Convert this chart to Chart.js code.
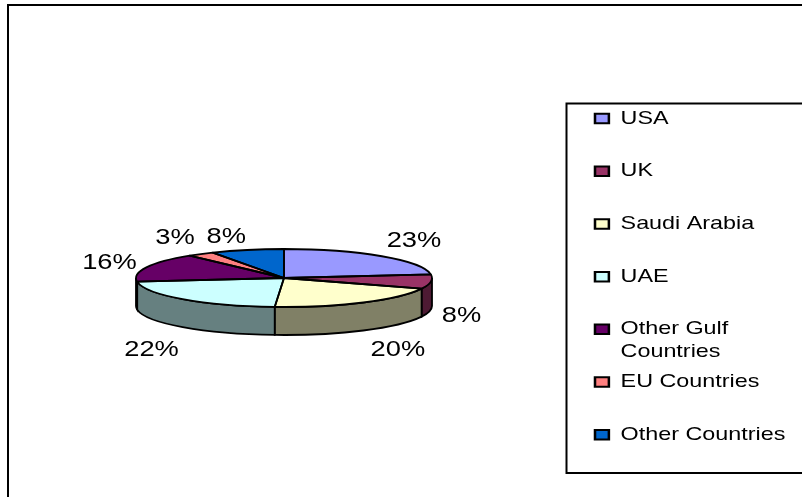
<!DOCTYPE html>
<html>
<head>
<meta charset="utf-8">
<style>html,body{margin:0;padding:0;background:#fff}canvas{display:block}</style>
<script src="https://cdn.jsdelivr.net/npm/chart.js@4"></script>
</head>
<body>
<canvas id="c" width="802" height="497"></canvas>
<script>
const categories = ['USA', 'UK', 'Saudi Arabia', 'UAE', ['Other Gulf', 'Countries'], 'EU Countries', 'Other Countries'];
const shares = [23, 8, 20, 22, 16, 3, 8];
const topColors = ['#9999FF', '#993366', '#FFFFCC', '#CCFFFF', '#660066', '#FF8080', '#0066CC'];
const wallColors = ['#4D4D80', '#4D1A33', '#808066', '#668080', '#330033', '#804040', '#003366'];
const labelNudges = [[3, -1], [-13, 3], [11, 3], [-1, 8], [4, 3], [-1, 0], [-10, 6]];

const FONT = '"Liberation Sans", Arial, sans-serif';
const RX = 148, RY = 29, DEPTH = 28, CY = 278;
const LEGEND_SX = 1.262, LEGEND_X = 595, LEGEND_SIZE = 18.5, LEGEND_PAD = 34.17, LEGEND_TOP = 75.2;

function arcs(chart) { return chart.getDatasetMeta(0).data; }

const pie3d = {
  id: 'pie3d',
  beforeDraw(chart) {
    const c = chart.ctx;
    c.save();
    c.fillStyle = '#fff';
    c.fillRect(0, 0, 802, 497);
    c.strokeStyle = '#000';
    c.lineWidth = 2;
    c.beginPath();
    c.moveTo(8, 497); c.lineTo(8, 5); c.lineTo(802, 5);
    c.stroke();
    c.beginPath();
    c.moveTo(802, 103.5); c.lineTo(566.5, 103.5); c.lineTo(566.5, 473); c.lineTo(802, 473);
    c.stroke();
    c.restore();
  },
  beforeLayout(chart) {
    const l = chart.legend;
    if (!l._fitPatched) {
      l._fitPatched = true;
      const f = l.fit;
      l.fit = function () { f.call(this); this.width = 234; };
    }
  },
  afterLayout(chart) {
    const l = chart.legend;
    l.left = 540; l.right = 802; l.top = LEGEND_TOP; l.bottom = 497;
    if (!l._patched) {
      l._patched = true;
      l.draw = function () {
        const c = this.ctx, x0 = this.left + this.options.labels.padding;
        c.save();
        c.translate(LEGEND_X, 0); c.scale(LEGEND_SX, 1); c.translate(-x0, 0);
        this._draw();
        // second line of any wrapped category, under its own legend row
        const rowStep = LEGEND_SIZE + LEGEND_PAD;
        const textX = x0 + this.options.labels.boxWidth + LEGEND_SIZE / 2;
        categories.forEach((cat, i) => {
          if (!Array.isArray(cat)) return;
          c.font = LEGEND_SIZE + 'px ' + FONT;
          c.fillStyle = '#000';
          c.textAlign = 'left';
          c.textBaseline = 'middle';
          c.fillText(cat[1], textX, LEGEND_TOP + LEGEND_PAD + LEGEND_SIZE / 2 + i * rowStep + 23);
        });
        c.restore();
      };
    }
  },
  beforeDatasetsDraw(chart) {
    const c = chart.ctx;
    arcs(chart).forEach((a, i) => {
      const s = Math.max(a.startAngle, 0), e = Math.min(a.endAngle, Math.PI);
      if (e <= s) return;
      c.save();
      c.beginPath();
      c.ellipse(a.x, CY, RX, RY, 0, s, e);
      c.ellipse(a.x, CY + DEPTH, RX, RY, 0, e, s, true);
      c.closePath();
      c.fillStyle = wallColors[i];
      c.fill();
      c.strokeStyle = '#000';
      c.lineWidth = 1.8;
      c.stroke();
      c.restore();
    });
    const a0 = arcs(chart)[0];
    c.save();
    c.translate(a0.x, CY);
    c.scale(1, RY / RX);
    c.translate(-a0.x, -a0.y);
  },
  afterDatasetsDraw(chart) {
    const c = chart.ctx;
    c.restore();
    arcs(chart).forEach((a) => {
      c.save();
      c.beginPath();
      c.moveTo(a.x, CY);
      c.ellipse(a.x, CY, RX, RY, 0, a.startAngle, a.endAngle);
      c.closePath();
      c.strokeStyle = '#000';
      c.lineWidth = 1.8;
      c.lineJoin = 'round';
      c.stroke();
      c.restore();
    });
    arcs(chart).forEach((a, i) => {
      const mid = (a.startAngle + a.endAngle) / 2;
      const lift = Math.sin(mid) > 0 ? DEPTH + 1 : 0;
      const x = a.x + Math.cos(mid) * 192 + labelNudges[i][0];
      const y = CY + Math.sin(mid) * 48 + lift + labelNudges[i][1];
      c.save();
      c.translate(x, y);
      c.scale(1.27, 1);
      c.font = '21.5px ' + FONT;
      c.fillStyle = '#000';
      c.textAlign = 'center';
      c.textBaseline = 'middle';
      c.fillText(shares[i] + '%', 0, 0);
      c.restore();
    });
  }
};

new Chart(document.getElementById('c'), {
  type: 'pie',
  data: {
    labels: categories,
    datasets: [{ data: shares, backgroundColor: topColors, borderWidth: 0, radius: RX }]
  },
  options: {
    responsive: false,
    animation: false,
    events: [],
    layout: { padding: 0 },
    plugins: {
      tooltip: { enabled: false },
      legend: {
        position: 'right',
        align: 'start',
        labels: {
          color: '#000',
          boxWidth: 11,
          boxHeight: 9.5,
          padding: LEGEND_PAD,
          font: { family: FONT, size: LEGEND_SIZE },
          generateLabels(chart) {
            return Chart.overrides.pie.plugins.legend.labels.generateLabels(chart).map(it => ({
              ...it,
              text: Array.isArray(it.text) ? it.text[0] : it.text,
              strokeStyle: '#000', lineWidth: 2, fontColor: '#000'
            }));
          }
        }
      }
    }
  },
  plugins: [pie3d]
});
</script>
</body>
</html>
